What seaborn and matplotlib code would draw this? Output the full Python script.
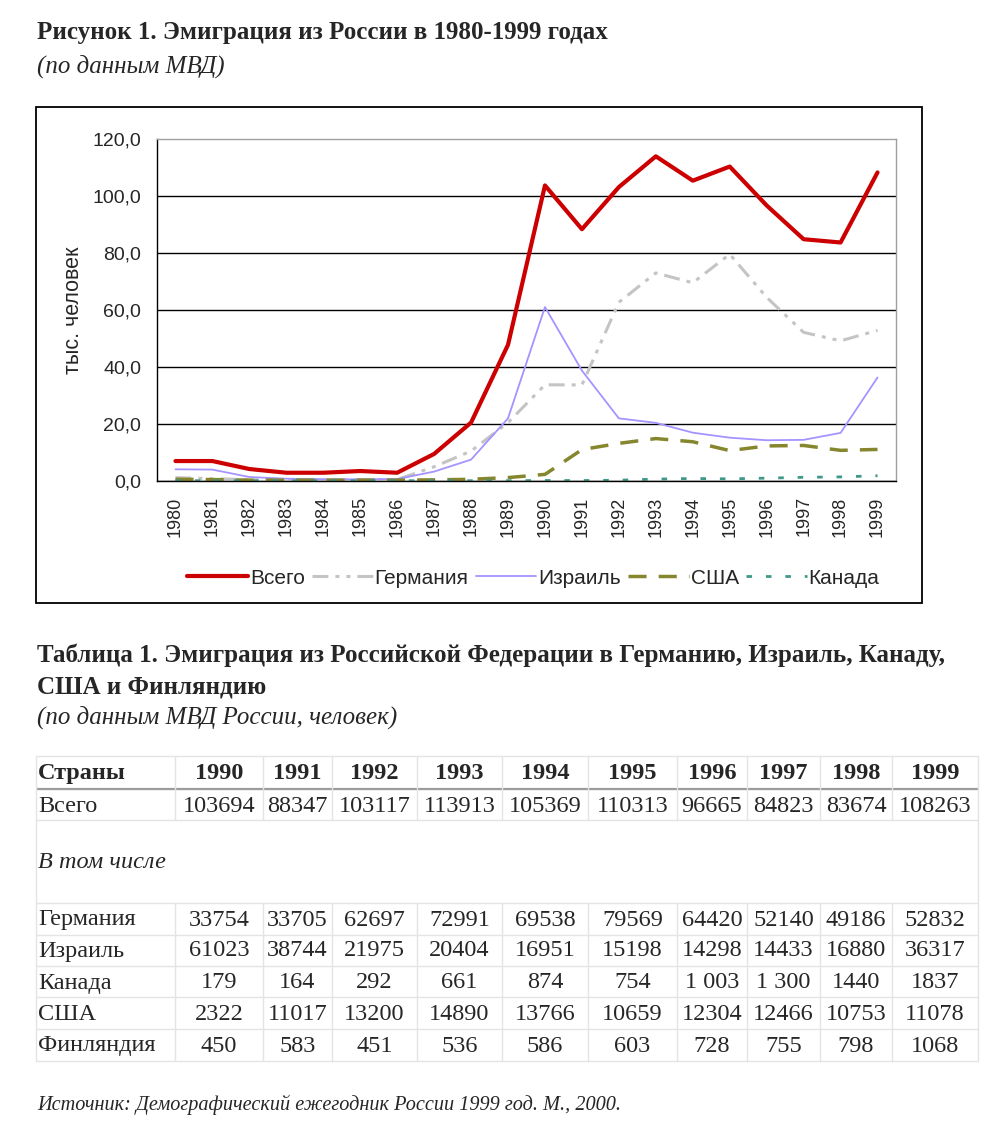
import numpy as np
import pandas as pd
import matplotlib
matplotlib.use("Agg")
import matplotlib.pyplot as plt
import seaborn as sns
from matplotlib.patches import Rectangle

# ---------------- data ----------------
years = list(range(1980, 2000))
table_years = list(range(1990, 2000))

# chart values for 1980-1989 (thousand people)
total_1980s = [7.0, 7.0, 4.2, 2.9, 2.9, 3.5, 2.9, 9.5, 20.5, 47.8]
germany_1980s = [1.2, 0.8, 0.5, 0.4, 0.4, 0.4, 0.5, 5.0, 10.5, 20.5]
israel_1980s = [4.1, 4.0, 1.4, 0.8, 0.6, 0.6, 0.7, 3.3, 7.5, 22.0]
usa_1980s = [0.6, 0.5, 0.3, 0.3, 0.3, 0.3, 0.3, 0.4, 0.6, 1.2]
canada_1980s = [0.1, 0.1, 0.1, 0.1, 0.1, 0.1, 0.1, 0.1, 0.1, 0.1]

# table values 1990-1999 (people)
total_tbl = [103694, 88347, 103117, 113913, 105369, 110313, 96665, 84823, 83674, 108263]
germany_tbl = [33754, 33705, 62697, 72991, 69538, 79569, 64420, 52140, 49186, 52832]
israel_tbl = [61023, 38744, 21975, 20404, 16951, 15198, 14298, 14433, 16880, 36317]
canada_tbl = [179, 164, 292, 661, 874, 754, 1003, 1300, 1440, 1837]
usa_tbl = [2322, 11017, 13200, 14890, 13766, 10659, 12304, 12466, 10753, 11078]
finland_tbl = [450, 583, 451, 536, 586, 603, 728, 755, 798, 1068]
canada_tbl_labels = ["179", "164", "292", "661", "874", "754", "1 003", "1 300", "1440", "1837"]

series_names = ["Всего", "Германия", "Израиль", "США", "Канада"]
table_rows = ["Всего", "Германия", "Израиль", "Канада", "США", "Финляндия"]

y_ticks = [0, 20, 40, 60, 80, 100, 120]

# ---------------- build long table ----------------
chart_series = {
    "Всего": total_1980s + [v / 1000 for v in total_tbl],
    "Германия": germany_1980s + [v / 1000 for v in germany_tbl],
    "Израиль": israel_1980s + [v / 1000 for v in israel_tbl],
    "США": usa_1980s + [v / 1000 for v in usa_tbl],
    "Канада": canada_1980s + [v / 1000 for v in canada_tbl],
}
df = pd.DataFrame([
    {"year": y, "value": v, "series": name}
    for name in series_names
    for y, v in zip(years, chart_series[name])
])

palette = {"Всего": "#CC0000", "Германия": "#C4C4C4", "Израиль": "#A593FF",
           "США": "#86862E", "Канада": "#3F998A"}
dashes = {"Всего": "", "Германия": (5.2, 2.3, 1.3, 2.3, 1.3, 2.3), "Израиль": "",
          "США": (5.2, 3.5), "Канада": (2.0, 5.0)}
sizes = {"Всего": 3.0, "Германия": 2.2, "Израиль": 1.3, "США": 2.5, "Канада": 2.0}

# ---------------- figure ----------------
sns.set_style("white")
plt.rcParams["font.family"] = ["Liberation Sans", "DejaVu Sans"]

W, H = 1000, 1139
fig = plt.figure(figsize=(W / 100, H / 100), dpi=100)
fig.patch.set_facecolor("white")

# overlay in pixel coordinates for page text and the table
ov = fig.add_axes([0, 0, 1, 1])
ov.set_xlim(0, W)
ov.set_ylim(H, 0)
ov.axis("off")

serif = ["Liberation Serif", "DejaVu Serif"]
fs_head = 18

ov.text(37, 33, "Рисунок 1. Эмиграция из России в 1980-1999 годах", family=serif,
        fontsize=fs_head, fontweight="bold", va="center", ha="left")
ov.text(37, 66, "(по данным МВД)", family=serif, fontsize=fs_head, style="italic",
        va="center", ha="left")

ov.add_patch(Rectangle((36, 107), 886, 496, fill=False, edgecolor="black", lw=1.3))

# ---------------- chart ----------------
ax = fig.add_axes([0.157, 0.5777, 0.739, 0.3003])
ax.set_facecolor("white")
sns.lineplot(data=df, x="year", y="value", hue="series", style="series", size="series",
             hue_order=series_names, style_order=series_names, size_order=series_names,
             palette=palette, dashes=dashes, sizes=sizes, legend=False, ax=ax,
             sort=False, estimator=None)
lines = ax.get_lines()[:5]
lines[0].set_zorder(5)

ax.set_xlim(1979.5, 1999.5)
ax.set_ylim(0, 120)
ax.set_xticks(years)
ax.set_xticklabels([str(y) for y in years], rotation=90, fontsize=13)
ax.set_xticks(np.arange(1979.5, 2000, 1.0), minor=True)
ax.tick_params(axis="x", which="major", length=0, pad=11)
ax.tick_params(axis="x", which="minor", length=5, width=1, color="black", direction="out")
ax.set_yticks(y_ticks)
ax.set_yticklabels([f"{v:.1f}".replace(".", ",") for v in y_ticks], fontsize=14)
ax.tick_params(axis="y", length=5, width=1, color="black", direction="out", pad=6.5)
ax.grid(axis="y", color="black", lw=1)
ax.grid(axis="x", visible=False)
ax.set_axisbelow(True)
ax.yaxis.get_major_ticks()[-1].gridline.set_visible(False)
for s in ["left", "bottom"]:
    ax.spines[s].set_color("black")
    ax.spines[s].set_linewidth(1)
for s in ["top", "right"]:
    ax.spines[s].set_color("#A0A0A0")
    ax.spines[s].set_linewidth(1)
ax.set_xlabel("")
ax.set_ylabel("тыс. человек", fontsize=15.5)
ax.yaxis.set_label_coords(-0.099, 0.5)

fig.legend(lines, series_names, loc="center", bbox_to_anchor=(0.5335, 0.4925), ncol=5,
           frameon=False, handlelength=2.9, handletextpad=0.1, columnspacing=0.35,
           fontsize=15, borderaxespad=0)

# ---------------- table ----------------
ov.text(37, 655, "Таблица 1. Эмиграция из Российской Федерации в Германию, Израиль, Канаду,",
        family=serif, fontsize=fs_head, fontweight="bold", va="center", ha="left")
ov.text(37, 687, "США и Финляндию", family=serif, fontsize=fs_head, fontweight="bold",
        va="center", ha="left")
ov.text(37, 717, "(по данным МВД России, человек)", family=serif, fontsize=fs_head,
        style="italic", va="center", ha="left")

col_bounds = [36, 175, 263, 332, 417, 502, 588, 677, 747, 820, 892, 978]
row_bounds = [756, 789, 820, 903, 935, 966, 997, 1029, 1061]
grid_c = "#E4E4E4"
for yb in row_bounds:
    ov.plot([36, 978], [yb, yb], color=grid_c, lw=1, solid_capstyle="butt")
ov.plot([36, 978], [789, 789], color="#9C9C9C", lw=1.6, solid_capstyle="butt")
for xb in col_bounds[1:-1]:
    ov.plot([xb, xb], [756, 820], color=grid_c, lw=1)
    ov.plot([xb, xb], [903, 1061], color=grid_c, lw=1)
for xb in (col_bounds[0], col_bounds[-1]):
    ov.plot([xb, xb], [756, 1061], color=grid_c, lw=1)

centers = [(col_bounds[i] + col_bounds[i + 1]) / 2 for i in range(1, len(col_bounds) - 1)]
fs_t = 17.5
ov.text(38, 773.5, "Страны", family=serif, fontsize=fs_t, fontweight="bold", va="center", ha="left")
for cx, yr in zip(centers, table_years):
    ov.text(cx, 773.5, str(yr), family=serif, fontsize=fs_t, fontweight="bold",
            va="center", ha="center")

row_values = {
    "Всего": [str(v) for v in total_tbl],
    "Германия": [str(v) for v in germany_tbl],
    "Израиль": [str(v) for v in israel_tbl],
    "Канада": canada_tbl_labels,
    "США": [str(v) for v in usa_tbl],
    "Финляндия": [str(v) for v in finland_tbl],
}
row_y = {"Всего": 806, "Германия": 920, "Израиль": 951, "Канада": 983,
         "США": 1014, "Финляндия": 1046}
for name in table_rows:
    yc = row_y[name]
    ov.text(38, yc, name, family=serif, fontsize=fs_t, va="center", ha="left")
    for cx, s in zip(centers, row_values[name]):
        ov.text(cx, yc, s, family=serif, fontsize=fs_t, va="center", ha="center")
ov.text(38, 863, "В том числе", family=serif, fontsize=fs_t, style="italic",
        va="center", ha="left")

ov.text(37, 1105, "Источник: Демографический ежегодник России 1999 год. М., 2000.",
        family=serif, fontsize=14.6, style="italic", va="center", ha="left")

fig.savefig("out.png", dpi=100, facecolor="white")
